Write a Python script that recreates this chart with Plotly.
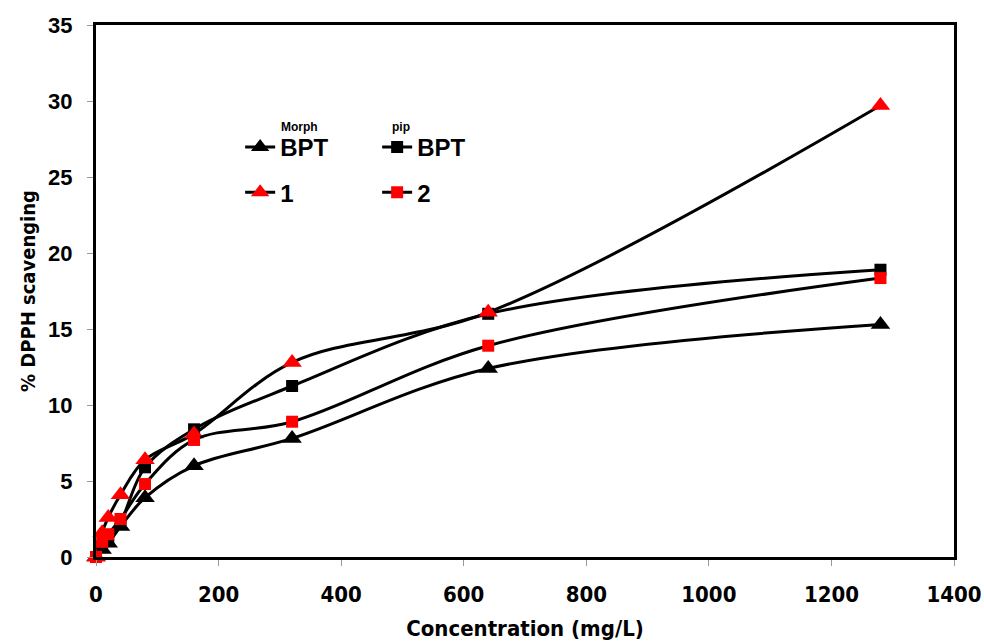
import plotly.graph_objects as go

conc = [0, 10, 20, 40, 80, 160, 320, 640, 1280]
morph_bpt = [0, 0.5, 0.9, 2.0, 3.9, 6.0, 7.8, 12.4, 15.3]
pip_bpt = [0, 0.7, 1.3, 2.3, 5.9, 8.4, 11.25, 16.0, 18.9]
comp1 = [0, 1.6, 2.6, 4.1, 6.4, 8.1, 12.8, 16.1, 29.7]
comp2 = [0, 1.0, 1.5, 2.5, 4.8, 7.7, 8.9, 13.9, 18.35]

x_ticks = [0, 200, 400, 600, 800, 1000, 1200, 1400]
y_ticks = [0, 5, 10, 15, 20, 25, 30, 35]

series = [
    ("<b>BPT</b>", morph_bpt, "triangle-up", "black", 17, "legend"),
    ("<b>BPT</b>", pip_bpt, "square", "black", 12, "legend"),
    ("<b>1</b>", comp1, "triangle-up", "red", 17, "legend2"),
    ("<b>2</b>", comp2, "square", "red", 12, "legend2"),
]

NARROW = "DejaVu Sans Condensed, Liberation Sans Narrow, Liberation Sans"

fig = go.Figure()
for name, vals, sym, col, sz, lg in series:
    fig.add_trace(go.Scatter(
        x=conc, y=vals, name=name, mode="lines+markers",
        line=dict(color="black", width=3, shape="spline", smoothing=1.0),
        marker=dict(symbol=sym, color=col, size=sz, line=dict(width=0)),
        cliponaxis=False, legend=lg,
    ))

legend_common = dict(
    orientation="h", bgcolor="rgba(0,0,0,0)",
    font=dict(family="Liberation Sans, Arial", size=24, color="black"),
    entrywidth=92, entrywidthmode="pixels",
    xanchor="left", yanchor="middle", itemwidth=30,
)

fig.update_layout(
    width=984, height=641,
    margin=dict(l=96, r=30, t=25, b=84),
    paper_bgcolor="white", plot_bgcolor="white",
    legend=dict(x=0.168, y=0.77, **legend_common),
    legend2=dict(x=0.168, y=0.685, **legend_common),
    xaxis=dict(
        range=[0, 1400], tickvals=x_ticks, ticktext=[str(v) for v in x_ticks],
        showgrid=False, zeroline=False, showline=True, mirror=True, automargin=False,
        linecolor="black", linewidth=3, ticks="outside", ticklen=6,
        tickcolor="#999999", tickwidth=1, ticklabelstandoff=10,
        tickfont=dict(family=NARROW, size=22, color="black", weight="bold"),
        title=dict(text="<b>Concentration (mg/L)</b>", standoff=16,
                   font=dict(family=NARROW, size=22, color="black")),
    ),
    yaxis=dict(
        range=[0, 35], tickvals=y_ticks, ticktext=[str(v) for v in y_ticks],
        showgrid=False, zeroline=False, showline=True, mirror=True, automargin=False,
        linecolor="black", linewidth=3, ticks="outside", ticklen=6,
        tickcolor="#999999", tickwidth=1, ticklabelstandoff=10,
        tickfont=dict(family="Liberation Sans, Arial", size=22, color="black", weight="bold"),
        title=dict(text="<b>% DPPH scavenging</b>", standoff=8,
                   font=dict(family=NARROW, size=20, color="black")),
    ),
    annotations=[
        dict(text="<b>Morph</b>", xref="paper", yref="paper", x=0.213, y=0.825,
             showarrow=False, font=dict(family="Liberation Sans, Arial", size=12, color="black")),
        dict(text="<b>pip</b>", xref="paper", yref="paper", x=0.355, y=0.825,
             showarrow=False, font=dict(family="Liberation Sans, Arial", size=12, color="black")),
    ],
)

fig.write_html("out.html")
